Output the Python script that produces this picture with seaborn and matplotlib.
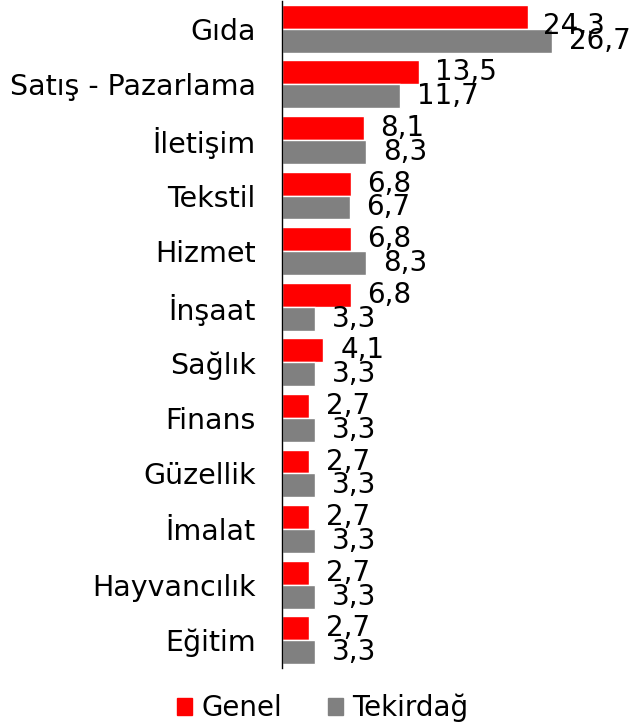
import pandas as pd
import matplotlib
matplotlib.use("Agg")
import matplotlib.pyplot as plt
import seaborn as sns
from matplotlib.patches import Patch

sectors = ["Gıda", "Satış - Pazarlama", "İletişim", "Tekstil", "Hizmet", "İnşaat",
           "Sağlık", "Finans", "Güzellik", "İmalat", "Hayvancılık", "Eğitim"]
genel = [24.3, 13.5, 8.1, 6.8, 6.8, 6.8, 4.1, 2.7, 2.7, 2.7, 2.7, 2.7]
tekirdag = [26.7, 11.7, 8.3, 6.7, 8.3, 3.3, 3.3, 3.3, 3.3, 3.3, 3.3, 3.3]
series = ["Genel", "Tekirdağ"]
colors = ["#FF0000", "#808080"]

df = pd.DataFrame({
    "sektor": sectors * 2,
    "deger": genel + tekirdag,
    "seri": [series[0]] * len(sectors) + [series[1]] * len(sectors),
})

sns.set_style("white")
plt.rcParams["font.family"] = ["DejaVu Sans"]
plt.rcParams["text.color"] = "black"

fig = plt.figure(figsize=(6.31, 7.28), dpi=100)
ax = fig.add_axes([282 / 631, 1 - 668 / 728, 1 - 282 / 631, 667 / 728])

sns.barplot(data=df, x="deger", y="sektor", hue="seri", orient="h",
            palette=colors, saturation=1, width=0.86, legend=False, ax=ax)

for cont, vals in zip(ax.containers, [genel, tekirdag]):
    anns = ax.bar_label(cont, labels=[f"{v:.1f}".replace(".", ",") for v in vals],
                        padding=12, fontsize=20, color="black")
    if cont is ax.containers[0]:
        anns[0].xyann = (11, -6.5)

ax.set_xlim(0, 34.5)
ax.set_ylim(len(sectors) - 0.5, -0.5)
ax.set_xlabel("")
ax.set_ylabel("")
ax.set_xticks([])
for s in ["top", "right", "bottom"]:
    ax.spines[s].set_visible(False)
ax.spines["left"].set_color("black")
ax.spines["left"].set_linewidth(1)

ax.set_yticks(range(len(sectors)))
ax.set_yticklabels(sectors, fontsize=20.5, color="black")
ax.tick_params(axis="y", which="major", length=0, pad=19)
ax.set_yticks([i - 0.5 for i in range(len(sectors) + 1)], minor=True)
ax.tick_params(axis="y", which="minor", length=7, width=1, color="black", direction="out")

handles = [Patch(color=c, label=l) for c, l in zip(colors, series)]
fig.legend(handles=handles, loc="center", bbox_to_anchor=(323 / 631, 1 - 708 / 728),
           ncol=2, frameon=False, fontsize=20, handlelength=0.52, handleheight=0.52,
           handletextpad=0.35, columnspacing=1.65, labelcolor="black")

fig.savefig("out.png", dpi=100)
